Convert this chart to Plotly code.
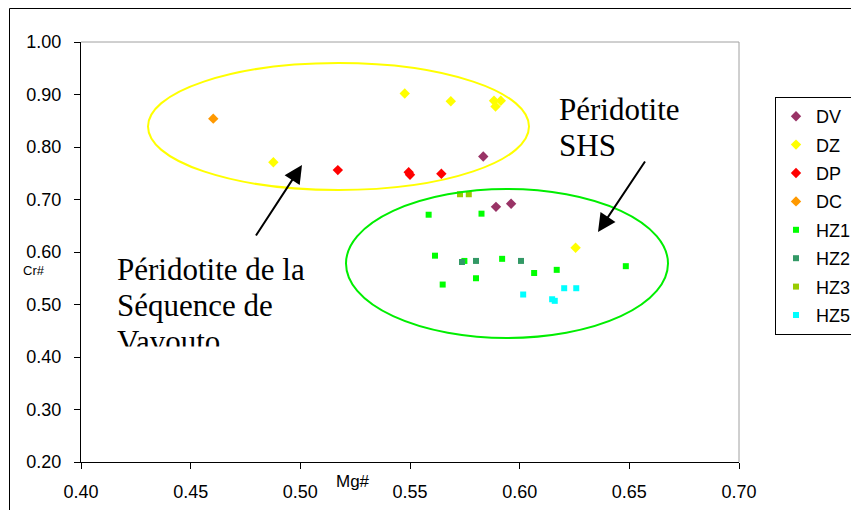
import plotly.graph_objects as go

# ---------------- data ----------------
series_names = ["DV", "DZ", "DP", "DC", "HZ1", "HZ2", "HZ3", "HZ5"]

dv_x = [0.5834, 0.5892, 0.5961]
dv_y = [0.782, 0.686, 0.692]

dz_x = [0.5476, 0.5686, 0.5883, 0.5914, 0.5890, 0.4877, 0.6255]
dz_y = [0.902, 0.887, 0.888, 0.888, 0.877, 0.771, 0.608]

dp_x = [0.5171, 0.5494, 0.5500, 0.5643]
dp_y = [0.756, 0.752, 0.747, 0.749]

dc_x = [0.4603]
dc_y = [0.854]

hz1_x = [0.5585, 0.5826, 0.5614, 0.5748, 0.5920, 0.6484, 0.6066, 0.6169, 0.5801, 0.5649]
hz1_y = [0.671, 0.673, 0.593, 0.583, 0.587, 0.573, 0.560, 0.566, 0.550, 0.538]

hz2_x = [0.5737, 0.5801, 0.6006]
hz2_y = [0.581, 0.583, 0.583]

hz3_x = [0.5728, 0.5768]
hz3_y = [0.710, 0.710]

hz5_x = [0.6016, 0.6148, 0.6160, 0.6203, 0.6258]
hz5_y = [0.519, 0.510, 0.507, 0.531, 0.531]

x_range = [0.40, 0.70]
y_range = [0.20, 1.00]

# ---------------- layout geometry ----------------
# the page body has a default 8px margin, so the figure starts at (8, 8) on screen
OFF = 8
SW, SH = 859, 510              # screen size
W, H = SW - OFF, SH - OFF      # figure size
# plot area on screen: x 81..739, y 42..462
ML = 81 - OFF
MT = 42 - OFF
MR = W - (739 - OFF)
MB = H - (462 - OFF)
PW, PH = W - ML - MR, H - MT - MB


def px2x(px):
    return x_range[0] + (px - OFF - ML) / PW * (x_range[1] - x_range[0])


def py2y(py):
    return y_range[0] + (H - MB - (py - OFF)) / PH * (y_range[1] - y_range[0])


def px2paper(px):
    return (px - OFF - ML) / PW


def py2paper(py):
    return (H - MB - (py - OFF)) / PH


styles = {
    "DV": ("diamond", "#993366", 8),
    "DZ": ("diamond", "#FFFF00", 8),
    "DP": ("diamond", "#FF0000", 8),
    "DC": ("diamond", "#FF9900", 8),
    "HZ1": ("square", "#00FF00", 6),
    "HZ2": ("square", "#339966", 6),
    "HZ3": ("square", "#99CC00", 6),
    "HZ5": ("square", "#00FFFF", 6),
}
data = {
    "DV": (dv_x, dv_y), "DZ": (dz_x, dz_y), "DP": (dp_x, dp_y), "DC": (dc_x, dc_y),
    "HZ1": (hz1_x, hz1_y), "HZ2": (hz2_x, hz2_y), "HZ3": (hz3_x, hz3_y), "HZ5": (hz5_x, hz5_y),
}

fig = go.Figure()
for name in series_names:
    sym, col, sz = styles[name]
    xs, ys = data[name]
    fig.add_trace(go.Scatter(
        x=xs, y=ys, mode="markers", name=name, legendgroup=name,
        marker=dict(symbol=sym, color=col, size=sz, line=dict(width=0)),
    ))

serif = "Liberation Serif, Times New Roman, serif"
sans = "Liberation Sans, Arial, sans-serif"

shapes = [
    # ellipses
    dict(type="circle", xref="x", yref="y", x0=px2x(148), x1=px2x(529), y0=py2y(190), y1=py2y(63),
         line=dict(color="#FFFF00", width=2)),
    dict(type="circle", xref="x", yref="y", x0=px2x(346), x1=px2x(668), y0=py2y(338), y1=py2y(189),
         line=dict(color="#00EE00", width=2)),
    # gray top/right plot border
    dict(type="line", xref="paper", yref="paper", x0=0, x1=1, y0=1, y1=1, line=dict(color="#a0a0a0", width=1)),
    dict(type="line", xref="paper", yref="paper", x0=1, x1=1, y0=0, y1=1, line=dict(color="#a0a0a0", width=1)),
    # outer chart frame
    dict(type="line", xref="paper", yref="paper", x0=px2paper(9.5), x1=px2paper(9.5), y0=py2paper(8.5),
         y1=py2paper(530), line=dict(color="black", width=1)),
    dict(type="line", xref="paper", yref="paper", x0=px2paper(9.5), x1=px2paper(880), y0=py2paper(8.5),
         y1=py2paper(8.5), line=dict(color="black", width=1)),
]

annotations = []


def text_line(txt, px_left, py_base, size=31):
    annotations.append(dict(
        x=px2x(px_left), y=py2y(py_base - 0.30 * size), xref="x", yref="y",
        text=txt, showarrow=False, xanchor="left", yanchor="middle",
        font=dict(family=serif, size=size, color="black"),
    ))


text_line("Péridotite de la", 115, 279)
text_line("Séquence de", 115, 315)
text_line("Vavouto", 115, 351)
text_line("Péridotite", 557, 119)
text_line("SHS", 557, 155)

# clip bottom of the text box (as in the reference)
annotations.append(dict(
    x=px2x(110), y=py2y(346), xref="x", yref="y", text=" ", showarrow=False,
    xanchor="left", yanchor="top", width=140, height=22, bgcolor="white", borderpad=0,
    font=dict(size=4),
))

# arrows
for (hx, hy, tx, ty) in [(302, 165, 255, 237), (598, 232, 646, 160)]:
    annotations.append(dict(
        x=px2x(hx), y=py2y(hy), ax=px2x(tx), ay=py2y(ty), xref="x", yref="y", axref="x", ayref="y",
        text="", showarrow=True, arrowhead=2, arrowsize=1.8, arrowwidth=2, arrowcolor="black",
    ))

# axis titles
annotations.append(dict(x=px2paper(33.5), y=py2paper(270), xref="paper", yref="paper", text="Cr#",
                        xanchor="center", yanchor="middle",
                        showarrow=False, font=dict(family=sans, size=13, color="black")))
annotations.append(dict(x=px2paper(353), y=py2paper(481), xref="paper", yref="paper", text="Mg#",
                        xanchor="center", yanchor="middle",
                        showarrow=False, font=dict(family=sans, size=17, color="black")))

axis_common = dict(
    showline=True, linecolor="black", linewidth=1, mirror=False,
    ticks="outside", ticklen=6, tickcolor="black", tickwidth=1,
    showgrid=False, zeroline=False, tickformat=".2f", automargin=False,
    tickfont=dict(family=sans, size=18, color="black"),
)

fig.update_layout(
    width=W, height=H,
    margin=dict(l=ML, r=MR, t=MT, b=MB, pad=0, autoexpand=False),
    paper_bgcolor="white", plot_bgcolor="white",
    xaxis=dict(range=x_range, tick0=0.40, dtick=0.05, ticklabelstandoff=7, **axis_common),
    yaxis=dict(range=y_range, tick0=0.20, dtick=0.10, ticklabelstandoff=9, **axis_common),
    shapes=shapes, annotations=annotations,
    showlegend=True,
    legend=dict(
        xref="container", yref="container",
        x=(775 - OFF) / W, y=1 - (97 - OFF) / H, xanchor="left", yanchor="top",
        bordercolor="black", borderwidth=1, bgcolor="white",
        font=dict(family=sans, size=18, color="black"),
        tracegroupgap=2, itemwidth=30,
    ),
)

fig.write_html("out.html")
